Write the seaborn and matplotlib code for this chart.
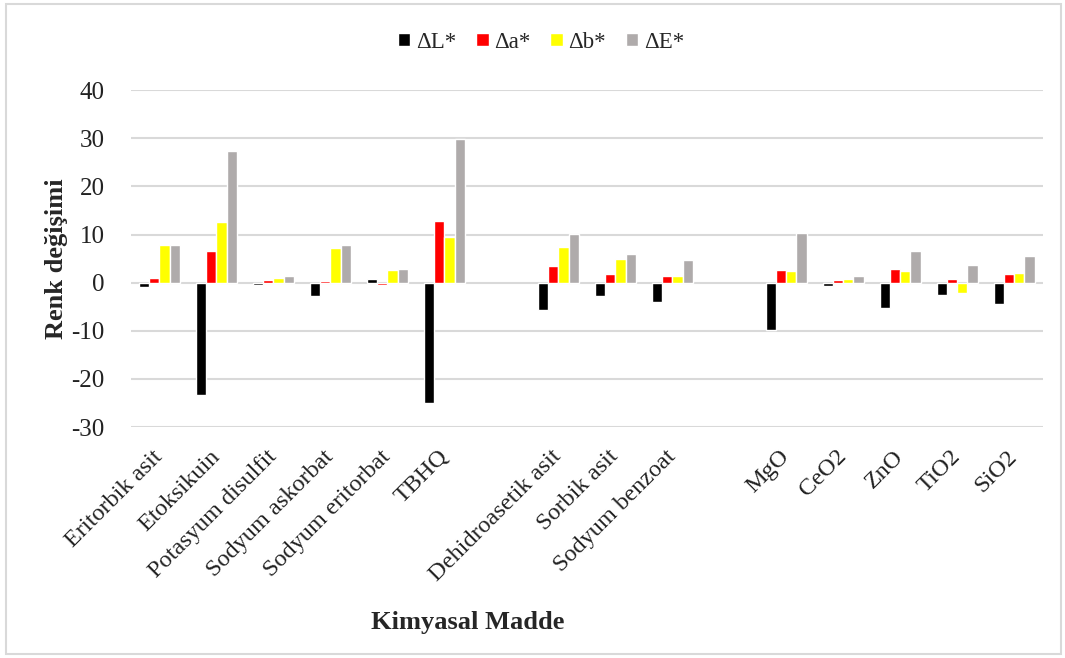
import matplotlib
matplotlib.use("Agg")
import matplotlib.pyplot as plt
import matplotlib.patches as mpatches
import seaborn as sns
import pandas as pd

# Substances (empty slots separate the three groups)
categories = ["Eritorbik asit", "Etoksikuin", "Potasyum disulfit", "Sodyum askorbat",
              "Sodyum eritorbat", "TBHQ", " ", "Dehidroasetik asit", "Sorbik asit",
              "Sodyum benzoat", "  ", "MgO", "CeO2", "ZnO", "TiO2", "SiO2"]
substances = [c for c in categories if c.strip()]

delta_L = [-0.8, -23.3, -0.5, -2.8, 0.8, -25.0, -5.7, -2.8, -4.0, -9.8, -0.6, -5.3, -2.6, -4.5]
delta_a = [1.0, 6.5, 0.5, 0.4, -0.5, 12.8, 3.4, 1.8, 1.4, 2.6, 0.5, 2.8, 0.7, 1.7]
delta_b = [7.8, 12.7, 1.0, 7.3, 2.6, 9.5, 7.5, 4.9, 1.3, 2.5, 0.8, 2.5, -2.2, 2.1]
delta_E = [7.9, 27.3, 1.3, 7.8, 2.9, 29.8, 10.1, 6.0, 4.7, 10.4, 1.4, 6.6, 3.6, 5.5]

series_names = ["ΔL*", "Δa*", "Δb*", "ΔE*"]
series_colors = ["#000000", "#FF0000", "#FFFF00", "#AFABAB"]
y_ticks = [-30, -20, -10, 0, 10, 20, 30, 40]

frames = []
for name, vals in zip(series_names, [delta_L, delta_a, delta_b, delta_E]):
    frames.append(pd.DataFrame({"Madde": substances, "Seri": name, "Deger": vals}))
df = pd.concat(frames, ignore_index=True)

sns.set_theme(style="white")
plt.rcParams["font.family"] = ["Liberation Serif", "DejaVu Serif"]

fig = plt.figure(figsize=(10.65, 6.58), dpi=100)
ax = fig.add_axes([0.123, 0.351, 0.856, 0.512])

sns.barplot(data=df, x="Madde", y="Deger", hue="Seri", order=categories,
            hue_order=series_names, palette=series_colors, saturation=1,
            width=0.72, edgecolor="white", linewidth=1.0, ax=ax, zorder=3)

ax.set_ylim(-30, 40)
ax.set_yticks(y_ticks)
ax.set_yticklabels([str(t) for t in y_ticks], fontsize=18, color="#222222")
ax.set_xlim(-0.5, len(categories) - 0.5)
ax.yaxis.grid(True, color="#d9d9d9", linewidth=1.5, zorder=0)
ax.set_axisbelow(True)
for s in ax.spines.values():
    s.set_visible(False)
ax.tick_params(axis="y", length=0, pad=19)
ax.tick_params(axis="x", length=0, pad=19)

ax.set_xticks(range(len(categories)))
ax.set_xticklabels([c.strip() for c in categories], rotation=45, ha="right",
                   va="center", rotation_mode="anchor", fontsize=17.5, color="#222222")

ax.set_xlabel("")
ax.set_ylabel("Renk değişimi", fontsize=19, fontweight="bold")
ax.yaxis.set_label_coords(-0.069, 0.5)
fig.text(0.439, 0.054, "Kimyasal Madde", fontsize=19, fontweight="bold",
         ha="center", va="center")

handles, labels = ax.get_legend_handles_labels()
ax.legend_.remove()
fig.legend(handles, labels, loc="center", bbox_to_anchor=(0.508, 0.936), ncol=4,
           frameon=False, fontsize=16.5, handlelength=0.55, handleheight=0.55,
           handletextpad=0.25, columnspacing=0.85)

# Light frame around the whole chart
fig.patches.append(mpatches.Rectangle((0.006, 0.006), 0.99, 0.988, transform=fig.transFigure,
                                      fill=False, edgecolor="#d9d9d9", linewidth=1.5))

fig.savefig("out.png", dpi=100, facecolor="white")
